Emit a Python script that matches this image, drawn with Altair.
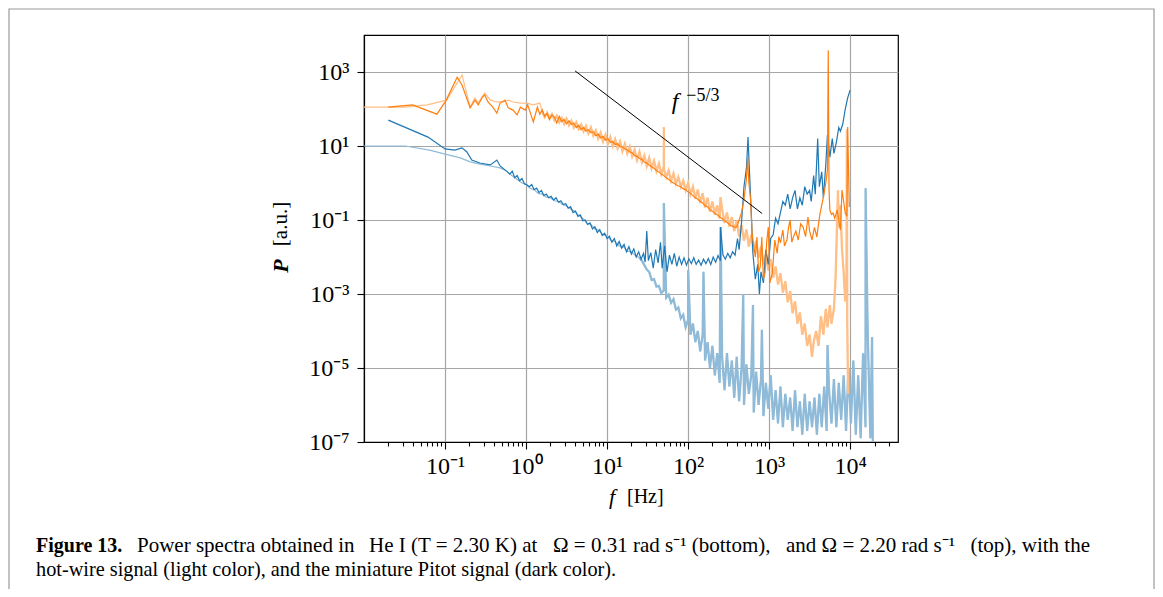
import altair as alt
import pandas as pd

# ---------------- data: (log10 f [Hz], log10 P [a.u.]) ----------------
hw_top = [  # hot-wire, Omega = 2.20 rad/s (light orange)
    (-2.0, 2.05), (-1.49, 2.05), (-1.22, 2.11), (-1.02, 2.22), (-0.98, 2.24), (-0.79, 2.92),
    (-0.69, 2.05), (-0.63, 2.30), (-0.59, 2.16), (-0.51, 2.43), (-0.44, 2.24), (-0.36, 2.19),
    (-0.28, 2.19), (-0.22, 2.24), (-0.16, 2.19), (-0.07, 2.16), (0.01, 2.16), (0.09, 2.11),
    (0.17, 2.16),
    (0.20, 1.92), (0.23, 1.78), (0.26, 1.90), (0.29, 1.74), (0.32, 1.86), (0.35, 1.70),
    (0.38, 1.82), (0.41, 1.64), (0.44, 1.76), (0.47, 1.60), (0.50, 1.74), (0.53, 1.56),
    (0.56, 1.68), (0.59, 1.50), (0.62, 1.64), (0.65, 1.46), (0.68, 1.58), (0.71, 1.40),
    (0.74, 1.54), (0.77, 1.34), (0.80, 1.50), (0.83, 1.28), (0.86, 1.42), (0.89, 1.20),
    (0.92, 1.36), (0.95, 1.12), (0.98, 1.30), (1.01, 1.06), (1.04, 1.24), (1.07, 1.00),
    (1.10, 1.18), (1.13, 0.94), (1.16, 1.12), (1.19, 0.86), (1.22, 1.06), (1.25, 0.80),
    (1.28, 0.98), (1.31, 0.72), (1.34, 0.90), (1.37, 0.62), (1.40, 0.84), (1.43, 0.56),
    (1.46, 0.74), (1.49, 0.46), (1.52, 0.68), (1.55, 0.40), (1.58, 0.60), (1.61, 0.32),
    (1.64, 0.52), (1.67, 0.24), (1.70, 0.44), (1.701, 1.51), (1.703, 0.36), (1.73, 0.16),
    (1.76, 0.34), (1.79, 0.06), (1.82, 0.26), (1.85, -0.02), (1.88, 0.16), (1.91, -0.10),
    (1.94, 0.06), (1.97, -0.20), (2.00, 0.00), (2.03, -0.30), (2.06, -0.10), (2.09, -0.42),
    (2.12, -0.18), (2.15, -0.54), (2.18, -0.28), (2.21, -0.66), (2.24, -0.40), (2.27, -0.78),
    (2.30, -0.50), (2.33, -0.86), (2.36, -0.60), (2.39, -0.96), (2.40, -0.38), (2.42, -0.70),
    (2.45, -1.08), (2.48, -0.80), (2.51, -1.18), (2.54, -0.92), (2.57, -1.30), (2.60, -1.02),
    (2.63, -1.44), (2.66, -1.14), (2.69, -1.56), (2.72, -1.26), (2.75, -1.72), (2.78, -1.40),
    (2.81, -1.86), (2.84, -1.56), (2.87, -2.02), (2.90, -1.72), (2.93, -2.20), (2.96, -1.92),
    (2.99, -2.36), (3.02, -2.06), (3.05, -2.56), (3.08, -2.26), (3.11, -2.74), (3.14, -2.44),
    (3.17, -2.96), (3.20, -2.66), (3.23, -3.22), (3.26, -2.92), (3.29, -3.52), (3.32, -3.20),
    (3.35, -3.80), (3.38, -3.50), (3.41, -4.10), (3.44, -3.80), (3.47, -4.40), (3.50, -4.10),
    (3.53, -4.70), (3.55, -4.30), (3.58, -4.00), (3.61, -4.40), (3.64, -3.60), (3.67, -4.10),
    (3.70, -3.40), (3.72, -3.90), (3.75, -3.30), (3.77, -3.80), (3.80, -3.40), (3.82, -2.60),
    (3.84, -1.00), (3.85, -0.20), (3.86, -1.20), (3.88, -0.60), (3.90, -1.80), (3.92, -2.40),
    (3.94, -3.20), (3.955, -2.60), (3.96, 1.45), (3.965, -3.80), (3.975, -5.70),
]

pt_top = [  # Pitot, Omega = 2.20 rad/s (dark orange)
    (-1.70, 2.05), (-1.40, 2.11), (-1.10, 1.86), (-0.99, 2.22), (-0.85, 2.86), (-0.79, 2.65),
    (-0.69, 2.03), (-0.63, 2.24), (-0.59, 2.11), (-0.54, 2.32), (-0.51, 2.38), (-0.47, 2.19),
    (-0.41, 2.05), (-0.36, 1.89), (-0.32, 2.16), (-0.26, 2.24), (-0.22, 2.03), (-0.16, 1.97),
    (-0.11, 1.84), (-0.07, 2.05), (-0.01, 1.97), (0.02, 2.11), (0.09, 1.65), (0.14, 2.05),
    (0.17, 1.86), (0.20, 1.98), (0.23, 1.80), (0.26, 1.88), (0.29, 1.72), (0.32, 1.84),
    (0.35, 1.78), (0.38, 1.62), (0.41, 1.80), (0.44, 1.66), (0.47, 1.72), (0.50, 1.60),
    (0.53, 1.68), (0.56, 1.58), (0.59, 1.62), (0.62, 1.50), (0.65, 1.56), (0.68, 1.44),
    (0.71, 1.50), (0.74, 1.40), (0.77, 1.44), (0.80, 1.36), (0.83, 1.38), (0.86, 1.28),
    (0.89, 1.32), (0.92, 1.22), (0.95, 1.26), (0.98, 1.16), (1.01, 1.20), (1.04, 1.10),
    (1.07, 1.12), (1.10, 1.04), (1.13, 1.06), (1.16, 0.98), (1.19, 0.98), (1.22, 0.92),
    (1.25, 0.90), (1.28, 0.84), (1.31, 0.82), (1.34, 0.74), (1.37, 0.72), (1.40, 0.66),
    (1.43, 0.64), (1.46, 0.56), (1.49, 0.54), (1.52, 0.48), (1.55, 0.44), (1.58, 0.40),
    (1.61, 0.34), (1.64, 0.30), (1.67, 0.24), (1.70, 0.20), (1.73, 0.14), (1.76, 0.10),
    (1.79, 0.04), (1.82, 0.00), (1.85, -0.04), (1.88, -0.08), (1.91, -0.10), (1.94, -0.16),
    (1.97, -0.18), (2.00, -0.24), (2.03, -0.28), (2.06, -0.34), (2.09, -0.40), (2.12, -0.44),
    (2.15, -0.50), (2.18, -0.54), (2.21, -0.62), (2.24, -0.64), (2.27, -0.72), (2.30, -0.76),
    (2.33, -0.82), (2.36, -0.86), (2.39, -0.92), (2.42, -0.96), (2.45, -1.02), (2.48, -1.06),
    (2.51, -1.12), (2.54, -1.16), (2.57, -1.19), (2.60, -1.19), (2.63, -1.00), (2.66, -0.80),
    (2.69, -0.45), (2.72, 0.10), (2.735, 0.68), (2.75, 0.00), (2.77, -0.40), (2.79, -1.35),
    (2.81, -1.70), (2.83, -2.00), (2.85, -1.46), (2.87, -2.40), (2.89, -2.27), (2.91, -1.46),
    (2.93, -2.60), (2.95, -2.43), (2.97, -1.60), (2.99, -1.19), (3.01, -2.70), (3.04, -2.43),
    (3.07, -1.54), (3.10, -1.90), (3.12, -1.45), (3.14, -1.62), (3.17, -1.27), (3.19, -1.70),
    (3.22, -1.54), (3.24, -1.20), (3.26, -1.00), (3.28, -1.60), (3.30, -1.46), (3.33, -1.30),
    (3.36, -1.54), (3.39, -1.10), (3.42, -1.19), (3.45, -1.45), (3.48, -0.92), (3.50, -1.30),
    (3.53, -1.54), (3.56, -1.20), (3.59, -1.46), (3.61, -1.10), (3.63, -0.81), (3.65, -0.60),
    (3.67, -0.38), (3.70, 0.00), (3.72, 0.35), (3.73, 3.59), (3.74, -0.20), (3.75, -0.73),
    (3.77, -0.85), (3.79, -0.81), (3.81, -0.95), (3.84, -0.73), (3.86, -1.00), (3.88, -1.27),
    (3.90, -0.19), (3.92, -0.50), (3.94, -0.81), (3.96, -0.90), (3.97, 1.51), (3.99, -0.65),
]

hw_bottom = [  # hot-wire, Omega = 0.31 rad/s (light blue)
    (-2.0, 1.00), (-1.49, 1.00), (-1.19, 0.89), (-1.00, 0.78), (-0.81, 0.68), (-0.69, 0.57),
    (-0.57, 0.51), (-0.44, 0.46), (-0.32, 0.41), (-0.25, 0.34), (-0.20, 0.24), (-0.15, 0.16),
    (-0.10, 0.08), (-0.05, 0.00), (0.00, -0.04), (0.05, -0.14), (0.10, -0.18), (0.15, -0.28),
    (0.20, -0.30), (0.25, -0.38), (0.30, -0.40), (0.35, -0.48), (0.40, -0.50), (0.45, -0.58),
    (0.50, -0.62), (0.55, -0.70), (0.60, -0.76), (0.65, -0.88), (0.70, -0.96), (0.75, -1.08),
    (0.80, -1.12), (0.85, -1.24), (0.90, -1.28), (0.95, -1.40), (1.00, -1.42), (1.05, -1.56),
    (1.10, -1.58), (1.15, -1.70), (1.20, -1.72), (1.25, -1.84), (1.30, -1.86), (1.35, -1.96),
    (1.40, -2.02), (1.43, -2.10), (1.46, -2.22), (1.49, -2.34), (1.52, -2.40), (1.55, -2.62),
    (1.58, -2.60), (1.61, -2.80), (1.64, -2.78), (1.67, -2.98), (1.70, -2.90), (1.701, -0.54),
    (1.73, -3.10), (1.76, -3.02), (1.79, -3.24), (1.82, -3.14), (1.85, -3.42), (1.88, -3.36),
    (1.91, -3.66), (1.94, -3.56), (1.97, -3.90), (2.00, -3.70), (2.001, -2.35), (2.03, -4.10),
    (2.06, -3.80), (2.09, -4.30), (2.12, -4.00), (2.15, -4.55), (2.18, -4.10), (2.19, -2.40),
    (2.21, -4.80), (2.24, -4.30), (2.27, -5.00), (2.30, -4.40), (2.33, -5.20), (2.36, -4.60),
    (2.39, -5.40), (2.401, -1.19), (2.42, -4.70), (2.45, -5.60), (2.48, -4.60), (2.51, -5.50),
    (2.54, -4.80), (2.57, -5.80), (2.60, -4.70), (2.63, -5.90), (2.66, -5.00), (2.681, -3.00),
    (2.69, -6.00), (2.72, -4.90), (2.75, -5.70), (2.78, -5.20), (2.801, -3.30), (2.81, -6.20),
    (2.84, -5.10), (2.87, -6.00), (2.90, -5.30), (2.911, -3.97), (2.93, -6.30), (2.96, -5.40),
    (2.99, -6.10), (3.02, -5.20), (3.05, -6.40), (3.08, -5.60), (3.11, -6.50), (3.14, -5.50),
    (3.17, -6.60), (3.20, -5.70), (3.23, -6.40), (3.26, -5.80), (3.29, -6.70), (3.32, -5.60),
    (3.35, -6.60), (3.38, -5.90), (3.41, -6.80), (3.44, -5.70), (3.47, -6.70), (3.50, -5.90),
    (3.53, -6.60), (3.56, -5.80), (3.59, -6.80), (3.62, -5.70), (3.65, -6.60), (3.68, -5.50),
    (3.71, -6.70), (3.721, -4.38), (3.74, -5.60), (3.77, -6.50), (3.80, -5.30), (3.83, -6.60),
    (3.86, -5.40), (3.89, -6.40), (3.92, -5.20), (3.95, -6.70), (3.98, -5.00), (4.01, -6.50),
    (4.04, -4.80), (4.07, -6.80), (4.10, -5.20), (4.13, -6.90), (4.16, -4.60), (4.19, -6.60),
    (4.191, -0.14), (4.211, -3.20), (4.22, -4.30), (4.25, -6.90), (4.271, -4.16), (4.28, -7.00),
]

pt_bottom = [  # Pitot, Omega = 0.31 rad/s (dark blue)
    (-1.70, 1.70), (-1.21, 1.24), (-1.00, 0.92), (-0.88, 0.89), (-0.79, 0.95), (-0.73, 0.84),
    (-0.67, 0.62), (-0.57, 0.54), (-0.44, 0.49), (-0.36, 0.62), (-0.32, 0.46), (-0.23, 0.30),
    (-0.20, 0.24), (-0.17, 0.32), (-0.14, 0.14), (-0.11, 0.20), (-0.08, 0.06), (-0.05, 0.12),
    (-0.02, -0.02), (0.01, -0.05), (0.04, -0.10), (0.07, -0.04), (0.10, -0.18), (0.13, -0.14),
    (0.16, -0.26), (0.19, -0.20), (0.22, -0.34), (0.25, -0.30), (0.28, -0.40), (0.31, -0.36),
    (0.34, -0.46), (0.37, -0.40), (0.40, -0.52), (0.43, -0.48), (0.46, -0.58), (0.49, -0.56),
    (0.52, -0.68), (0.55, -0.64), (0.58, -0.80), (0.61, -0.76), (0.64, -0.90), (0.67, -0.86),
    (0.70, -1.02), (0.73, -1.00), (0.76, -1.12), (0.79, -1.08), (0.82, -1.24), (0.85, -1.18),
    (0.88, -1.34), (0.91, -1.26), (0.94, -1.42), (0.97, -1.36), (1.00, -1.50), (1.03, -1.44),
    (1.06, -1.60), (1.09, -1.50), (1.12, -1.70), (1.15, -1.58), (1.18, -1.76), (1.21, -1.66),
    (1.24, -1.86), (1.27, -1.72), (1.30, -1.92), (1.33, -1.78), (1.36, -2.00), (1.39, -1.86),
    (1.42, -2.06), (1.45, -1.90), (1.47, -2.14), (1.49, -1.30), (1.51, -2.10), (1.54, -1.88),
    (1.57, -2.30), (1.60, -1.80), (1.63, -2.16), (1.66, -1.60), (1.68, -2.30), (1.71, -1.70),
    (1.74, -2.40), (1.77, -1.95), (1.80, -2.20), (1.83, -1.90), (1.86, -2.25), (1.89, -2.00),
    (1.92, -2.20), (1.95, -2.02), (1.98, -2.22), (2.01, -2.05), (2.04, -2.18), (2.07, -2.02),
    (2.10, -2.20), (2.13, -2.08), (2.16, -2.22), (2.19, -2.06), (2.22, -2.18), (2.25, -2.04),
    (2.28, -2.20), (2.31, -2.00), (2.34, -2.14), (2.37, -1.96), (2.40, -2.10), (2.401, -1.19),
    (2.43, -1.94), (2.46, -2.06), (2.49, -1.90), (2.52, -2.02), (2.55, -1.86), (2.58, -1.95),
    (2.61, -1.50), (2.63, -1.80), (2.66, -1.05), (2.69, -0.10), (2.72, 0.40), (2.74, 1.24),
    (2.76, 0.20), (2.78, -0.80), (2.80, -1.90), (2.83, -2.60), (2.86, -2.20), (2.88, -3.00),
    (2.90, -2.40), (2.93, -2.70), (2.96, -1.80), (2.99, -2.20), (3.02, -1.50), (3.05, -1.40),
    (3.08, -0.95), (3.11, -1.10), (3.14, -0.80), (3.17, -0.50), (3.20, -0.60), (3.23, -0.30),
    (3.26, -0.70), (3.29, -0.40), (3.32, -0.20), (3.35, -0.70), (3.38, -0.40), (3.41, -0.60),
    (3.44, -0.10), (3.47, -0.30), (3.50, -0.20), (3.52, -0.50), (3.55, 0.20), (3.57, -0.30),
    (3.60, 1.20), (3.62, -0.10), (3.65, 0.30), (3.67, -0.40), (3.70, 0.50), (3.72, 1.30),
    (3.75, 0.70), (3.78, 1.20), (3.80, 0.80), (3.83, 1.10), (3.86, 1.50), (3.88, 1.40),
    (3.91, 1.60), (3.94, 2.00), (3.97, 2.30), (4.00, 2.51),
]

slope_f = [4.03, 820.0]       # f^-5/3 guide line
slope_p = [1070.0, 0.15]

x_major = [0.1, 1, 10, 100, 1000, 10000]
x_minor_mult = [2, 3, 4, 5, 6, 7, 8, 9]
x_decades = [0.01, 0.1, 1, 10, 100, 1000, 10000]
y_major = [1e-7, 1e-5, 1e-3, 1e-1, 1e1, 1e3]

caption_head = "Figure 13."
caption_line1 = ["Power spectra obtained in", "He I (T = 2.30 K) at",
                 "\u03a9 = 0.31 rad s\u207b\u00b9 (bottom),", "and \u03a9 = 2.20 rad s\u207b\u00b9",
                 "(top), with the"]
caption_line2 = "hot-wire signal (light color), and the miniature Pitot signal (dark color)."

# ---------------- helpers ----------------
SUP = {"-": "\u207b", "0": "\u2070", "1": "\u00b9", "2": "\u00b2", "3": "\u00b3", "4": "\u2074",
       "5": "\u2075", "6": "\u2076", "7": "\u2077", "8": "\u2078", "9": "\u2079"}


def pow_label(e):
    return "10" + "".join(SUP[c] for c in str(e))


def label_expr(exps):
    ex = "round(log(datum.value)/LN10)"
    s = "''"
    for e in reversed(exps):
        s = f"({ex} == {e} ? '{pow_label(e)}' : {s})"
    is_major = f"abs(log(datum.value)/LN10 - {ex}) < 0.000001"
    return f"{is_major} ? {s} : ''"


def frame(points, name):
    return pd.DataFrame({"f": [10 ** a for a, b in points],
                         "P": [10 ** b for a, b in points],
                         "series": name})


x_ticks = sorted(x_major + [m * d for d in x_decades for m in x_minor_mult if m * d < 39000])
major_test_x = "abs(log(datum.value)/LN10 - round(log(datum.value)/LN10)) < 0.000001 && datum.value >= 0.1"

xscale = alt.Scale(type="log", domain=[0.01, 39000], nice=False)
yscale = alt.Scale(type="log", domain=[1e-7, 1e4], nice=False)

xaxis = alt.Axis(values=x_ticks, title=None,
                 labelExpr=label_expr([-1, 0, 1, 2, 3, 4]),
                 tickSize={"condition": {"test": major_test_x, "value": 7}, "value": 4},
                 gridOpacity={"condition": {"test": major_test_x, "value": 1}, "value": 0},
                 labelPadding=5, labelFlush=False, labelOverlap=False)
yaxis = alt.Axis(values=y_major, title=None, labelExpr=label_expr([-7, -5, -3, -1, 1, 3]),
                 tickSize=7, labelPadding=8, labelFlush=False, labelOverlap=False)

X = alt.X("f:Q", scale=xscale, axis=xaxis)
Y = alt.Y("P:Q", scale=yscale, axis=yaxis)


def line(points, name, color, width=1.2):
    return alt.Chart(frame(points, name)).mark_line(color=color, strokeWidth=width, clip=True).encode(x=X, y=Y)


LIGHT_BLUE, LIGHT_ORANGE = "#8fbbd9", "#ffbf86"
layers = [
    line(hw_bottom, "hw_bottom", LIGHT_BLUE),
    line([p for p in hw_bottom if p[0] >= 1.4], "hw_bottom_band", LIGHT_BLUE, 2.3),
    line(hw_top, "hw_top", LIGHT_ORANGE),
    line([p for p in hw_top if p[0] >= 0.2], "hw_top_band", LIGHT_ORANGE, 2.3),
    line(pt_bottom, "pt_bottom", "#1f77b4"),
    line(pt_top, "pt_top", "#ff7f0e"),
    alt.Chart(pd.DataFrame({"f": slope_f, "P": slope_p})).mark_line(color="black", strokeWidth=1).encode(x=X, y=Y),
]

lab = pd.DataFrame({"f": [69.0], "P": [155.0], "t": ["f"]})
sup = pd.DataFrame({"f": [95.0], "P": [230.0], "t": ["\u22125/3"]})
layers.append(alt.Chart(lab).mark_text(font="Liberation Serif", fontStyle="italic", fontSize=24,
                                       align="center", baseline="middle", color="black")
              .encode(x=X, y=Y, text="t:N"))
layers.append(alt.Chart(sup).mark_text(font="Liberation Serif", fontSize=18,
                                       align="left", baseline="middle", color="black")
              .encode(x=X, y=Y, text="t:N"))

one = alt.Data(values=[{}])


def txt(text, x, y, size=19, style="normal", weight="normal", align="left", angle=0):
    return alt.Chart(one).mark_text(text=text, font="Liberation Serif", fontSize=size, fontStyle=style,
                                    fontWeight=weight, align=align, baseline="middle", angle=angle,
                                    color="black").encode(x=alt.value(x), y=alt.value(y))


cap_x = [-227, 5, 189, 422, 726]   # justified word groups of caption line 1
layers += [
    txt("f", 248, 462, size=22, style="italic", align="center"),
    txt("[Hz]", 263, 462, size=20),
    txt("P", -83, 231, size=22, style="italic", weight="bold", align="center", angle=270),
    txt("[a.u.]", -83, 189, size=21, align="center", angle=270),
    txt(caption_head, -328, 511, size=20, weight="bold"),
    txt(caption_line2, -328, 535, size=20.3),
    alt.Chart(one).mark_rect(fill=None, stroke="#9a9a9a", strokeWidth=1.2).encode(
        x=alt.value(-355), x2=alt.value(790), y=alt.value(-26), y2=alt.value(620)),
]
for i, (seg, cx) in enumerate(zip(caption_line1, cap_x)):
    layers.append(txt(seg, cx, 511, size=21, align="right" if i == len(caption_line1) - 1 else "left"))

chart = alt.layer(*layers).properties(
    width=534, height=407,
    autosize=alt.AutoSizeParams(type="none"),
    padding={"left": 356, "top": 27, "right": 257, "bottom": 147},
).configure_axis(
    labelFont="Liberation Serif", labelFontSize=24, labelColor="black",
    domainColor="black", domainWidth=1.2, tickColor="black", tickWidth=1.1,
    gridColor="#a6a6a6", gridWidth=1.2,
).configure_view(stroke="black", strokeWidth=1.2)

chart.save("out.html", embed_options={"renderer": "svg", "actions": False})
